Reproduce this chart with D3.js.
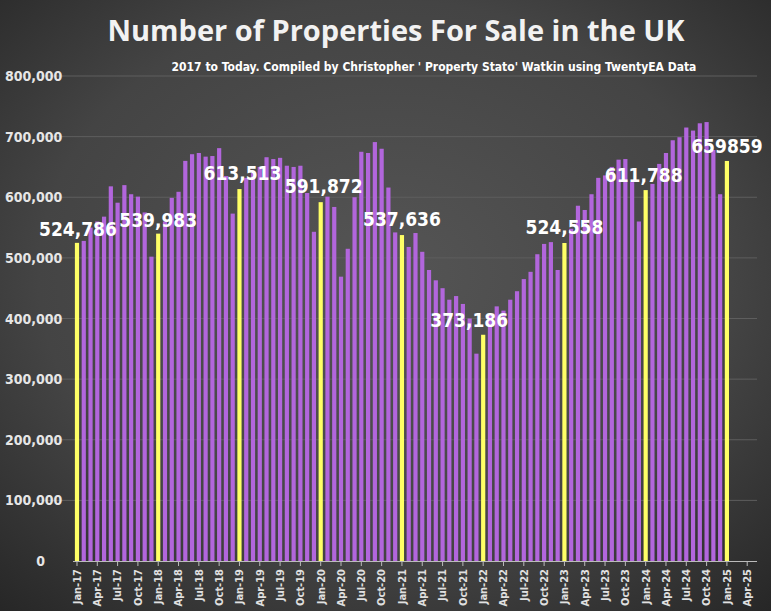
<!DOCTYPE html>
<html><head><meta charset="utf-8">
<script src="https://cdn.jsdelivr.net/npm/d3@7"></script>
<style>html,body{margin:0;padding:0;background:#333;}svg{display:block;}</style>
</head><body>
<svg id="c" width="771" height="611"></svg>
<script>
const monthNames = ["Jan","Feb","Mar","Apr","May","Jun","Jul","Aug","Sep","Oct","Nov","Dec"];
const values = [
 524786,528000,550000,560000,568000,618000,591000,620000,605000,601000,575000,502000,
 539983,560000,599000,609000,660000,671000,673000,667000,668000,681000,635000,573000,
 613513,632000,640000,650000,666000,663000,665000,652000,650000,652000,607000,543000,
 591872,601000,584000,469000,515000,600000,675000,673000,691000,680000,616000,542000,
 537636,518000,541000,510000,480000,463000,450000,431000,437000,424000,400000,342000,
 373186,405000,420000,413000,431000,445000,465000,477000,506000,523000,526000,480000,
 524558,548000,586000,579000,605000,632000,636000,650000,662000,663000,625000,560000,
 611788,622000,655000,673000,694000,699000,715000,710000,722000,724000,678000,605000,
 659859
];
const labelTexts = ["524,786","539,983","613,513","591,872","537,636","373,186","524,558","611,788","659859"];
const yTicks = [0,100000,200000,300000,400000,500000,600000,700000,800000];

const months = [];
for (let i = 0; i < 100; i++) {
  months.push(monthNames[i % 12] + "-" + (17 + Math.floor(i / 12)));
}

const svg = d3.select("#c");
const defs = svg.append("defs");
const g = defs.append("radialGradient").attr("id","bg").attr("cx","50%").attr("cy","45%").attr("r","75%");
g.append("stop").attr("offset","0%").attr("stop-color","#555555");
g.append("stop").attr("offset","60%").attr("stop-color","#444444");
g.append("stop").attr("offset","100%").attr("stop-color","#262626");
svg.append("rect").attr("width",771).attr("height",611).attr("fill","url(#bg)");

const x = d3.scaleBand().domain(months).range([73.6, 750.6]).paddingInner(0.38).paddingOuter(0.19);
const y = d3.scaleLinear().domain([0, 800000]).range([561, 76]);

svg.append("g").selectAll("line").data(yTicks.slice(1)).join("line")
  .attr("x1", 40).attr("x2", 757).attr("y1", d => y(d)).attr("y2", d => y(d))
  .attr("stroke", "#5e5e5e").attr("stroke-width", 1);

svg.append("g").selectAll("text").data(yTicks).join("text")
  .attr("x", d => d === 0 ? 45 : 5).attr("y", d => y(d) + 5)
  .attr("text-anchor", d => d === 0 ? "end" : "start")
  .attr("fill", "#e6e6e6").attr("font-family", "DejaVu Sans Condensed, DejaVu Sans").attr("font-weight", "bold")
  .attr("font-size", 14).text(d => d3.format(",")(d));

const data = values.map((v, i) => ({m: months[i], v, jan: i % 12 === 0}));
svg.append("g").selectAll("rect").data(data).join("rect")
  .attr("x", d => x(d.m)).attr("width", x.bandwidth())
  .attr("y", d => y(d.v)).attr("height", d => y(0) - y(d.v))
  .attr("fill", d => d.jan ? "#ffff66" : "#b266dc");

const xAxis = d3.axisBottom(x).tickValues(months.filter((m, i) => i % 3 === 0)).tickSize(5).tickSizeOuter(0);
const ax = svg.append("g").attr("transform", `translate(0,${y(0)})`).call(xAxis);
ax.select(".domain").attr("stroke", "#bbbbbb").attr("d", "M73,0.5H757");
ax.selectAll(".tick line").attr("stroke", "#bbbbbb");
ax.selectAll("text").attr("fill", "#e0e0e0").attr("font-family", "DejaVu Sans Condensed, DejaVu Sans")
  .attr("font-weight", "bold").attr("font-size", 11)
  .attr("transform", "rotate(-90)").attr("text-anchor", "end").attr("x", -8).attr("y", 0).attr("dy", "0.35em");

const labelDx = [1, 0, 3, 3, 0, -14, 0, -2, 0];
const labelDy = [-7, -7, -9, -9, -9, -8, -9, -8, -8];
const jans = data.filter(d => d.jan);
svg.append("g").selectAll("text").data(jans).join("text")
  .attr("x", (d, i) => x(d.m) + x.bandwidth() / 2 + labelDx[i])
  .attr("y", (d, i) => y(d.v) + labelDy[i])
  .attr("text-anchor", "middle").attr("fill", "#ffffff")
  .attr("font-family", "DejaVu Sans Condensed, DejaVu Sans").attr("font-weight", "bold").attr("font-size", 19)
  .text((d, i) => labelTexts[i]);

svg.append("text").attr("x", 396).attr("y", 41).attr("text-anchor", "middle")
  .attr("fill", "#f2f2f2").attr("font-family", "Open Sans, DejaVu Sans").attr("font-weight", "bold")
  .attr("font-size", 29).text("Number of Properties For Sale in the UK");
svg.append("text").attr("x", 434).attr("y", 71).attr("text-anchor", "middle")
  .attr("fill", "#ffffff").attr("font-family", "DejaVu Sans Condensed, DejaVu Sans").attr("font-weight", "bold")
  .attr("font-size", 12).text("2017 to Today. Compiled by Christopher ' Property Stato' Watkin using TwentyEA Data");
</script>
</body></html>
